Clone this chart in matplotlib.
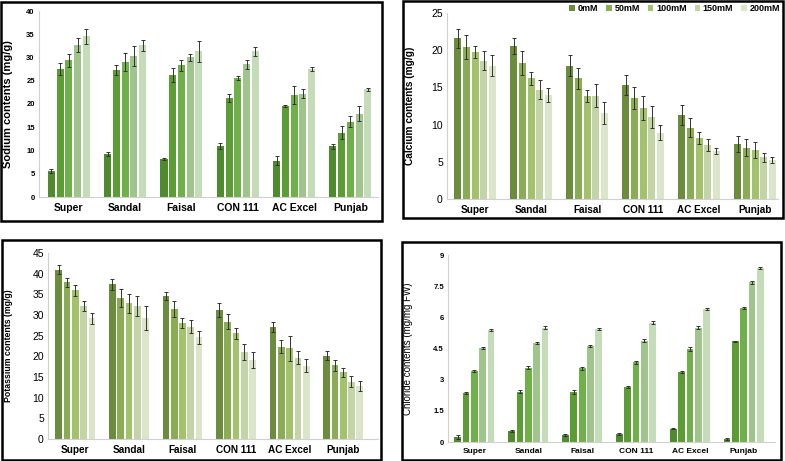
import numpy as np
import matplotlib
matplotlib.use("Agg")
import matplotlib.pyplot as plt
from matplotlib.patches import Rectangle
from matplotlib.transforms import blended_transform_factory

plt.rcParams['font.family'] = ['Liberation Sans', 'DejaVu Sans']

cultivars = ['Super', 'Sandal', 'Faisal', 'CON 111', 'AC Excel', 'Punjab']
treatments = ['0mM', '50mM', '100mM', '150mM', '200mM']

# rows = cultivars, columns = treatments
sodium = [[5.6, 27.6, 29.4, 32.6, 34.6],
          [9.2, 27.3, 29.0, 30.3, 32.6],
          [8.1, 26.3, 28.3, 30.0, 31.3],
          [11.0, 21.3, 25.6, 28.5, 31.3],
          [7.8, 19.6, 21.9, 22.2, 27.5],
          [10.9, 13.8, 16.2, 17.9, 23.2]]
sodium_err = [[0.5, 1.3, 1.4, 1.5, 1.6],
              [0.4, 1.1, 2.0, 2.1, 1.2],
              [0.2, 1.5, 1.2, 0.8, 2.3],
              [0.6, 0.8, 0.5, 0.9, 1.0],
              [1.0, 0.2, 2.0, 1.0, 0.5],
              [0.5, 1.4, 1.2, 1.6, 0.3]]

calcium = [[21.6, 20.4, 19.7, 18.6, 17.9],
           [20.6, 18.3, 16.2, 14.7, 14.0],
           [17.9, 16.2, 13.9, 13.9, 11.6],
           [15.3, 13.6, 12.2, 11.0, 8.9],
           [11.3, 9.6, 8.2, 7.3, 6.5],
           [7.4, 6.9, 6.6, 5.6, 5.2]]
calcium_err = [[1.3, 1.6, 0.8, 1.3, 1.4],
               [1.1, 1.6, 0.9, 1.3, 0.9],
               [1.4, 1.4, 0.8, 1.6, 1.5],
               [1.3, 1.5, 1.6, 1.5, 1.0],
               [1.3, 1.3, 0.85, 0.8, 0.4],
               [1.1, 1.1, 1.1, 0.6, 0.4]]

potassium = [[40.9, 37.9, 36.0, 32.2, 29.2],
             [37.4, 34.1, 32.8, 32.2, 29.3],
             [34.6, 31.4, 28.1, 27.2, 24.6],
             [31.2, 28.4, 25.6, 21.1, 19.1],
             [27.1, 22.3, 21.9, 19.7, 17.7],
             [20.2, 17.8, 16.1, 13.9, 12.9]]
potassium_err = [[1.1, 1.1, 1.3, 1.3, 1.3],
                 [1.4, 2.2, 2.4, 2.4, 2.9],
                 [1.0, 2.0, 1.2, 1.5, 1.5],
                 [1.8, 1.9, 1.3, 2.0, 2.0],
                 [1.3, 1.6, 3.0, 1.6, 1.6],
                 [1.2, 1.4, 1.1, 1.4, 1.2]]

chloride = [[0.24, 2.35, 3.40, 4.53, 5.41],
            [0.53, 2.42, 3.57, 4.76, 5.51],
            [0.34, 2.40, 3.54, 4.63, 5.46],
            [0.37, 2.64, 3.84, 4.88, 5.75],
            [0.64, 3.36, 4.48, 5.51, 6.41],
            [0.16, 4.85, 6.45, 7.69, 8.39]]
chloride_err = [[0.08, 0.05, 0.05, 0.06, 0.05],
                [0.04, 0.08, 0.08, 0.05, 0.05],
                [0.06, 0.08, 0.06, 0.04, 0.05],
                [0.05, 0.05, 0.08, 0.08, 0.06],
                [0.03, 0.04, 0.08, 0.08, 0.04],
                [0.04, 0.03, 0.03, 0.07, 0.05]]
chloride_ticks = [0, 1.5, 3, 4.5, 6, 7.5, 9]
chloride_ticklabels = ['0', '1.5', '3', '4.5', '6', '7.5', '9']

bright = ['#4e8a2e', '#5c9c35', '#70b04a', '#a0c58c', '#c5dcb8']
olive = ['#6a8c3c', '#89ac55', '#a2c36c', '#c3d5a6', '#dbe5ca']

W, H = 785, 461
fig = plt.figure(figsize=(W / 100, H / 100), dpi=100)


def box(x0, y0, x1, y1):
    # pixel coords from top-left -> figure fraction
    return [x0 / W, 1 - y1 / H, (x1 - x0) / W, (y1 - y0) / H]


def frame(x0, y0, x1, y1):
    l, b, w, h = box(x0, y0, x1, y1)
    fig.patches.append(Rectangle((l, b), w, h, transform=fig.transFigure,
                                 fill=False, edgecolor='black', lw=1.8))


def panel(pos, data, err, colors, ylim, yticks, ylabel, xlim,
          ylab_kw, ytick_kw, xtick_size, ylabel_x, yticklabels=None):
    ax = fig.add_axes(box(*pos))
    data = np.array(data)
    err = np.array(err)
    x = np.arange(len(cultivars))
    pitch, width = 0.155, 0.125
    for i, t in enumerate(treatments):
        ax.bar(x + (i - 2) * pitch, data[:, i], width, color=colors[i],
               yerr=err[:, i], capsize=1.6,
               error_kw=dict(ecolor='#333333', elinewidth=0.7, capthick=0.7),
               label=t)
    ax.set_xlim(*xlim)
    ax.set_ylim(*ylim)
    ax.set_yticks(yticks)
    if yticklabels is not None:
        ax.set_yticklabels(yticklabels)
    ax.set_xticks(x)
    ax.set_xticklabels(cultivars, fontsize=xtick_size, fontweight='bold')
    for lab in ax.get_yticklabels():
        lab.set_fontsize(ytick_kw['size'])
        lab.set_fontweight(ytick_kw['weight'])
    ax.tick_params(axis='both', length=0, pad=3)
    ax.tick_params(axis='x', pad=4)
    for s in ['top', 'right']:
        ax.spines[s].set_visible(False)
    for s in ['left', 'bottom']:
        ax.spines[s].set_color('#d0d0d0')
        ax.spines[s].set_linewidth(0.8)
    ax.set_ylabel(ylabel, **ylab_kw)
    ax.yaxis.set_label_coords(ylabel_x, 0.5,
                              transform=blended_transform_factory(fig.transFigure, ax.transAxes))
    return ax


# Sodium
frame(1, 2, 382, 221)
panel((39, 11, 378, 197), sodium, sodium_err, bright, (0, 40),
      range(0, 41, 5), 'Sodium contents (mg/g)', (-0.53, 5.49),
      dict(fontsize=8, fontweight='bold'), dict(size=5.5, weight='bold'),
      7.5, 13 / W)

# Calcium
frame(403, 1, 783, 218)
ax2 = panel((447, 13, 778, 199), calcium, calcium_err, olive, (0, 25),
            range(0, 26, 5), 'Calcium contents (mg/g)', (-0.5, 5.41),
            dict(fontsize=7.3, fontweight='bold'), dict(size=7.5, weight='normal'),
            7.2, 415 / W)
ax2.legend(loc='upper right', bbox_to_anchor=(781 / W, 1 - 3 / H),
           bbox_transform=fig.transFigure, ncol=5, frameon=False,
           prop=dict(size=6.5, weight='bold'), handlelength=0.6,
           handleheight=0.6, handletextpad=0.3, columnspacing=0.9,
           borderaxespad=0, borderpad=0.1)

# Potassium
frame(2, 240, 381, 460)
panel((48, 253, 378, 439), potassium, potassium_err, olive, (0, 45),
      range(0, 46, 5), 'Potassium contents (mg/g)', (-0.51, 5.65),
      dict(fontsize=6.3, fontweight='bold'), dict(size=7.5, weight='normal'),
      7.2, 13 / W)

# Chloride
frame(402, 242, 781, 460)
panel((448, 255, 775, 442), chloride, chloride_err, bright, (0, 9),
      chloride_ticks, 'Chloride contents (mg/mg FW)',
      (-0.49, 5.58), dict(fontsize=7), dict(size=5.5, weight='bold'),
      6, 413 / W, yticklabels=chloride_ticklabels)

fig.savefig('out.png', dpi=100)
